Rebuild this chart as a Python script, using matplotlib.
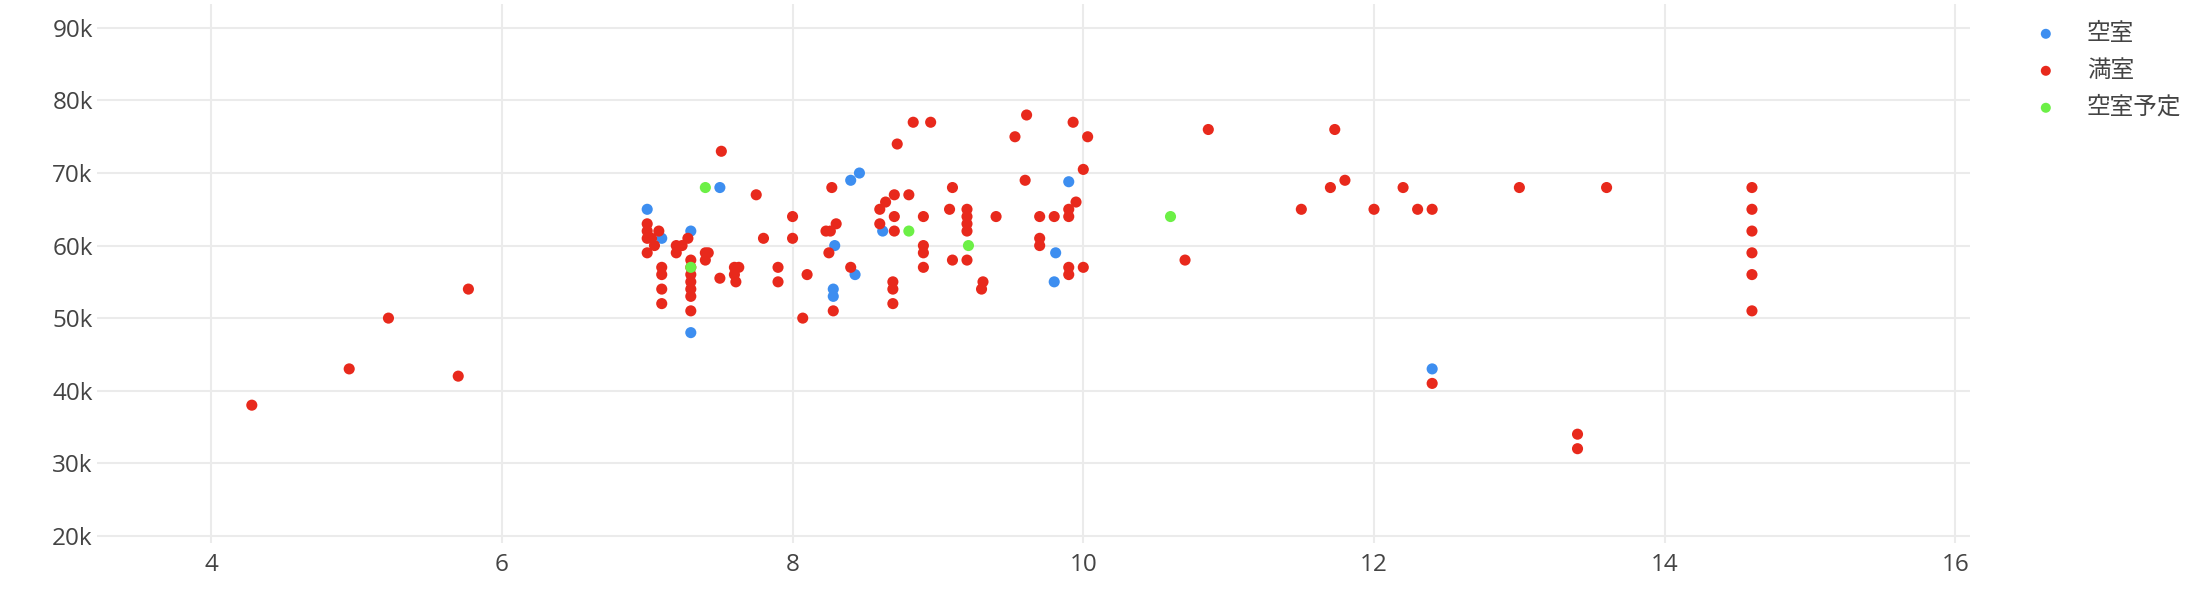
import matplotlib
matplotlib.use("Agg")
import matplotlib.pyplot as plt
from matplotlib.ticker import FuncFormatter

plt.rcParams['font.family'] = ['Open Sans', 'Noto Sans CJK JP', 'DejaVu Sans']

# ---- data (x: area-like metric, y: rent in thousand yen) ----
series_names = ["空室", "満室", "空室予定"]
series_colors = ["#3d8ef0", "#e8291c", "#6cf046"]

vacant_x = [7.0, 7.1, 7.3, 7.3, 7.5, 8.28, 8.28, 8.29, 8.4, 8.46, 8.43, 8.62, 9.9, 9.81, 9.8, 12.4]
vacant_y = [65, 61, 62, 48, 68, 54, 53, 60, 69, 70, 56, 62, 68.8, 59, 55, 43]

full_x = [4.28, 4.95, 5.22, 5.7, 5.77,
          7.0, 7.0, 7.08, 7.0, 7.03, 7.05, 7.0,
          7.1, 7.1, 7.1, 7.1,
          7.3, 7.3, 7.3, 7.3, 7.3, 7.3, 7.3,
          7.2, 7.24, 7.2, 7.28,
          7.4, 7.42, 7.4,
          7.5, 7.51,
          7.6, 7.63, 7.6, 7.61,
          7.75, 7.8, 7.9, 7.9,
          8.0, 8.0, 8.07, 8.1,
          8.23, 8.26, 8.25, 8.27, 8.3, 8.28, 8.4,
          8.6, 8.6, 8.64, 8.7, 8.7, 8.7, 8.72, 8.69, 8.69, 8.69,
          8.8, 8.83, 8.95, 8.9, 8.9, 8.9, 8.9,
          9.08, 9.1, 9.1,
          9.2, 9.2, 9.2, 9.2, 9.2,
          9.31, 9.3, 9.4, 9.53, 9.6, 9.61,
          9.7, 9.7, 9.7, 9.8,
          9.9, 9.9, 9.9, 9.9, 9.93, 9.95,
          10.0, 10.0, 10.03,
          10.7, 10.86, 11.5, 11.7, 11.73, 11.8, 12.0, 12.2, 12.3, 12.4, 12.4,
          13.0, 13.4, 13.4, 13.6,
          14.6, 14.6, 14.6, 14.6, 14.6, 14.6]
full_y = [38, 43, 50, 42, 54,
          63, 62, 62, 61, 61, 60, 59,
          57, 56, 54, 52,
          58, 57, 56, 55, 54, 53, 51,
          60, 60, 59, 61,
          59, 59, 58,
          55.5, 73,
          57, 57, 56, 55,
          67, 61, 57, 55,
          64, 61, 50, 56,
          62, 62, 59, 68, 63, 51, 57,
          65, 63, 66, 67, 64, 62, 74, 55, 54, 52,
          67, 77, 77, 64, 60, 59, 57,
          65, 68, 58,
          65, 64, 63, 62, 58,
          55, 54, 64, 75, 69, 78,
          64, 61, 60, 64,
          65, 64, 57, 56, 77, 66,
          70.5, 57, 75,
          58, 76, 65, 68, 76, 69, 65, 68, 65, 65, 41,
          68, 34, 32, 68,
          68, 65, 62, 59, 56, 51]

planned_x = [7.4, 7.3, 8.8, 9.21, 10.6]
planned_y = [68, 57, 62, 60, 64]

x_ticks = [4, 6, 8, 10, 12, 14, 16]
y_ticks = [20, 30, 40, 50, 60, 70, 80, 90]

W, H = 2210, 602
fig = plt.figure(figsize=(W / 100, H / 100), dpi=100)
ax = fig.add_axes([97 / W, 1 - 543 / H, (1970 - 97) / W, (543 - 4) / H])

text_color = "#444444"
grid_color = "#ebebeb"

for name, color, xs, ys in [
    (series_names[0], series_colors[0], vacant_x, vacant_y),
    (series_names[1], series_colors[1], full_x, full_y),
    (series_names[2], series_colors[2], planned_x, planned_y),
]:
    ax.scatter(xs, [v * 1000 for v in ys], s=64, color=color, edgecolors='none',
               label=name, zorder=3)

ax.set_xlim(3.215, 16.1)
ax.set_ylim(19000, 93300)
ax.set_xticks(x_ticks)
ax.set_yticks([v * 1000 for v in y_ticks])
ax.yaxis.set_major_formatter(FuncFormatter(lambda v, p: f"{int(round(v / 1000))}k"))
ax.grid(True, color=grid_color, linewidth=1.5, zorder=0)
ax.set_axisbelow(True)
for s in ax.spines.values():
    s.set_visible(False)
ax.tick_params(axis='both', length=0, labelsize=17.5, colors=text_color)
ax.tick_params(axis='y', pad=3)
ax.tick_params(axis='x', pad=7)

leg = ax.legend(loc='upper left', bbox_to_anchor=(2034 / W, 1 - 22 / H),
                bbox_transform=fig.transFigure, frameon=False, fontsize=17,
                handlelength=1.0, handletextpad=1.24, borderpad=0, borderaxespad=0,
                labelspacing=0.55, markerscale=0.9)
for t in leg.get_texts():
    t.set_color(text_color)

fig.savefig("out.png", dpi=100, facecolor="white")
